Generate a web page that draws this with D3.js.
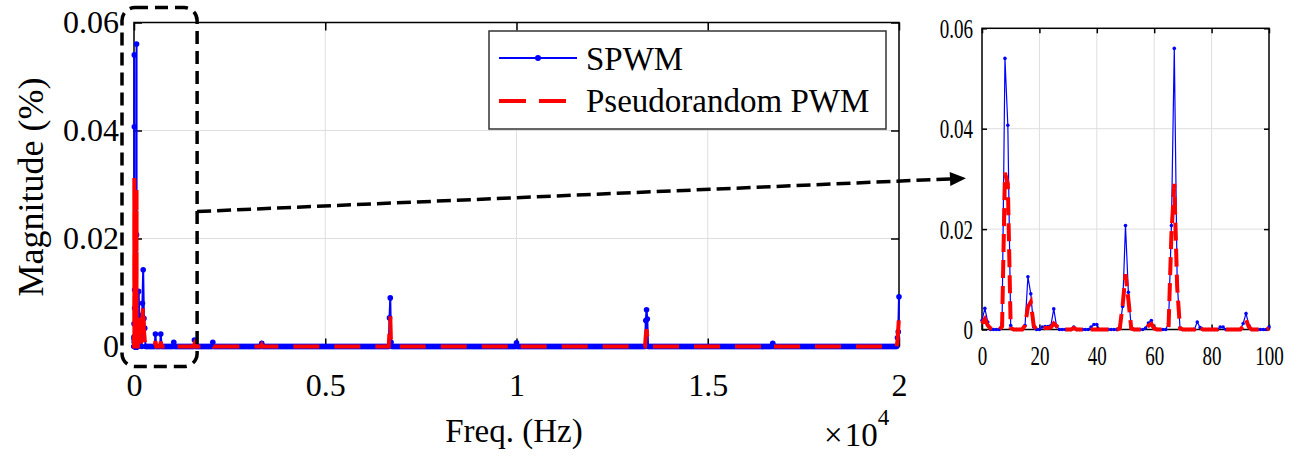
<!DOCTYPE html>
<html>
<head>
<meta charset="utf-8">
<title>SPWM vs Pseudorandom PWM spectrum</title>
<script src="https://cdn.jsdelivr.net/npm/d3@7"></script>
<style>
    html, body { margin: 0; background: #fff; }
    svg { display: block; font-family: "Liberation Serif", "Times New Roman", serif; }
    .grid line { stroke: #dedede; stroke-width: 1; }
    .frame { fill: none; stroke: #000; stroke-width: 1.5; }
    .axis path { display: none; }
    .axis line { stroke: #000; stroke-width: 1.5; }
    .axis text { font-family: "Liberation Serif", "Times New Roman", serif; fill: #000; }
</style>
</head>
<body>
<svg width="1311" height="463"></svg>
<script>
// zoomed view: 1 Hz bins, 0..100 Hz
var insetHz = d3.range(0, 101);
var insetSpwm = [
    0.0018, 0.0042, 0.0015, 0, 0, 0, 0, 0.0012, 0.054, 0.0407,
    0.0008, 0, 0, 0, 0, 0.0008, 0.0105, 0.0071, 0.0005, 0,
    0, 0.0005, 0.0006, 0.0006, 0.0008, 0.0041, 0.0006, 0, 0, 0,
    0, 0, 0.0005, 0, 0, 0, 0, 0, 0.0005, 0.001,
    0.001, 0, 0, 0, 0, 0, 0, 0, 0.0003, 0.0046,
    0.0207, 0.0074, 0.0003, 0, 0, 0, 0, 0.0003, 0.0013, 0.0018,
    0.0003, 0, 0, 0, 0, 0.0012, 0.0207, 0.056, 0.0096, 0.0003,
    0, 0, 0, 0, 0, 0.0015, 0.0004, 0, 0, 0,
    0, 0, 0, 0.0005, 0.0005, 0, 0, 0, 0, 0,
    0, 0.0012, 0.0032, 0.0008, 0, 0, 0, 0, 0, 0,
    0.0005
];
var insetPrpwm = [
    0.0012, 0.0021, 0.0008, 0.0002, 0, 0, 0, 0.0006, 0.0312, 0.029,
    0.0003, 0, 0, 0, 0, 0.0008, 0.0045, 0.0055, 0.0008, 0,
    0, 0.0002, 0.0003, 0.0003, 0.0004, 0.0012, 0.0007, 0.0002, 0, 0,
    0, 0, 0.0003, 0, 0, 0, 0, 0, 0, 0,
    0, 0, 0, 0, 0, 0, 0, 0, 0.0002, 0.0048,
    0.011, 0.006, 0.0002, 0, 0, 0, 0, 0, 0.0008, 0.0011,
    0.0002, 0, 0, 0, 0, 0.0004, 0.019, 0.029, 0.0085, 0.0002,
    0, 0, 0, 0, 0, 0.0008, 0.0003, 0, 0, 0,
    0, 0, 0, 0.0003, 0.0002, 0, 0, 0, 0, 0,
    0, 0.0006, 0.0019, 0.0005, 0, 0, 0, 0, 0, 0,
    0.0002
];

// full-range trace above 100 Hz: 20 Hz bins, zero except these lines
var binHz = 20;
var peakHz    = [120, 140, 160, 180, 220, 240, 260, 280, 560, 700, 1040, 1580, 2060, 3340,
                 6680, 6700, 6720, 10000, 13380, 13400, 13420, 16700, 19960, 19980, 20000];
var peakSpwm  = [0.0102, 0.0058, 0.0034, 0.0012, 0.008, 0.0142, 0.0052, 0.0034, 0.0023, 0.0023, 0.0008, 0.0012, 0.0008, 0.0006,
                 0.0053, 0.009, 0.0008, 0.0007, 0.0048, 0.0068, 0.0051, 0.0006, 0.0016, 0.0027, 0.0092];
var peakPrpwm = [0.006, 0.0035, 0.002, 0.0008, 0.005, 0.0077, 0.003, 0.0012, 0.001, 0.0009, 0.0003, 0.0004, 0.0003, 0.0003,
                 0.003, 0.0056, 0.0004, 0.0003, 0.002, 0.0032, 0.0018, 0.0003, 0.001, 0.0032, 0.0055];

var mainXTicks = [0, 5000, 10000, 15000, 20000];
var mainXLabels = ["0", "0.5", "1", "1.5", "2"];
var yTicks = [0, 0.02, 0.04, 0.06];
var insetXTicks = [0, 20, 40, 60, 80, 100];
var seriesNames = ["SPWM", "Pseudorandom PWM"];

var blue = "#0000ff", red = "#ff0000";

var rows = insetHz.map(function (f, i) { return {f: f, a: insetSpwm[i], b: insetPrpwm[i]}; });
for (var f = 100 + binHz; f <= 20000; f += binHz) {
    var k = peakHz.indexOf(f);
    rows.push({f: f, a: k < 0 ? 0 : peakSpwm[k], b: k < 0 ? 0 : peakPrpwm[k]});
}
var insetRows = insetHz.map(function (f, i) { return {f: f, a: insetSpwm[i], b: insetPrpwm[i]}; });

var svg = d3.select("svg");

// strip d3's default sans-serif so the serif face from css applies
function plain(g) { g.attr("font-family", null).attr("font-size", null); }

// ---------- main panel ----------
var x = d3.scaleLinear().domain([0, 20000]).range([134, 899]);
var y = d3.scaleLinear().domain([0, 0.06]).range([346.5, 22.5]);

var main = svg.append("g");
var grid = main.append("g").attr("class", "grid");
grid.selectAll(".gx").data(mainXTicks.slice(1, -1)).enter().append("line")
    .attr("x1", x).attr("x2", x).attr("y1", y(0)).attr("y2", y(0.06));
grid.selectAll(".gy").data(yTicks.slice(1, -1)).enter().append("line")
    .attr("x1", x(0)).attr("x2", x(20000)).attr("y1", y).attr("y2", y);

main.append("rect").attr("class", "frame")
    .attr("x", x(0)).attr("y", y(0.06)).attr("width", x(20000) - x(0)).attr("height", y(0) - y(0.06));

var fmtX = function (d) { return mainXLabels[mainXTicks.indexOf(d)]; };
var fmtY = function (d) { return d === 0 ? "0" : d.toFixed(2); };

main.append("g").attr("class", "axis").attr("transform", "translate(0," + y(0) + ")")
    .call(d3.axisBottom(x).tickValues(mainXTicks).tickFormat(fmtX).tickSizeInner(-8).tickSizeOuter(0).tickPadding(27))
    .call(plain)
    .call(function (g) { g.selectAll("text").attr("font-size", 32); });
main.append("g").attr("class", "axis").attr("transform", "translate(0," + y(0.06) + ")")
    .call(d3.axisTop(x).tickValues(mainXTicks).tickFormat("").tickSizeInner(-8).tickSizeOuter(0));
main.append("g").attr("class", "axis").attr("transform", "translate(" + x(0) + ",0)")
    .call(d3.axisLeft(y).tickValues(yTicks).tickFormat(fmtY).tickSizeInner(-8).tickSizeOuter(0).tickPadding(15))
    .call(plain)
    .call(function (g) { g.selectAll("text").attr("font-size", 32); });
main.append("g").attr("class", "axis").attr("transform", "translate(" + x(20000) + ",0)")
    .call(d3.axisRight(y).tickValues(yTicks).tickFormat("").tickSizeInner(-8).tickSizeOuter(0));

var line = d3.line().x(function (d) { return x(d.f); });

main.append("path").datum(rows)
    .attr("fill", "none").attr("stroke", blue).attr("stroke-width", 2)
    .attr("d", line.y(function (d) { return y(d.a); }));
main.append("g").selectAll("circle").data(rows).enter().append("circle")
    .attr("cx", function (d) { return x(d.f); }).attr("cy", function (d) { return y(d.a); })
    .attr("r", 2.8).attr("fill", blue);
main.append("path").datum(rows)
    .attr("fill", "none").attr("stroke", red).attr("stroke-width", 4).attr("stroke-dasharray", "26,15")
    .attr("d", line.y(function (d) { return y(d.b); }));

main.append("text").attr("x", 514).attr("y", 442).attr("text-anchor", "middle")
    .attr("font-size", 33).text("Freq. (Hz)");
main.append("text").attr("transform", "translate(43,187) rotate(-90)").attr("text-anchor", "middle")
    .attr("font-size", 36).text("Magnitude (%)");
var mult = main.append("text").attr("x", 824).attr("y", 446).attr("font-size", 33);
mult.append("tspan").text("\u00d7");
mult.append("tspan").attr("dx", 2).text("10");
mult.append("tspan").attr("font-size", 23).attr("dy", -21).text("4");

// legend
var lg = main.append("g");
lg.append("rect").attr("x", 489).attr("y", 31).attr("width", 397).attr("height", 98)
    .attr("fill", "#fff").attr("stroke", "#333").attr("stroke-width", 1.5);
lg.append("line").attr("x1", 499).attr("x2", 577).attr("y1", 58).attr("y2", 58)
    .attr("stroke", blue).attr("stroke-width", 2);
lg.append("circle").attr("cx", 538).attr("cy", 58).attr("r", 3).attr("fill", blue);
lg.append("line").attr("x1", 499).attr("x2", 577).attr("y1", 101).attr("y2", 101)
    .attr("stroke", red).attr("stroke-width", 4).attr("stroke-dasharray", "27,13");
lg.selectAll("text").data(seriesNames).enter().append("text")
    .attr("x", 586).attr("y", function (d, i) { return i ? 112 : 70; })
    .attr("font-size", 33).text(function (d) { return d; });

// ---------- inset ----------
var xi = d3.scaleLinear().domain([0, 100]).range([982, 1269]);
var yi = d3.scaleLinear().domain([0, 0.06]).range([329.5, 28.3]);
var inset = svg.append("g");
var igrid = inset.append("g").attr("class", "grid");
igrid.selectAll(".gx").data(insetXTicks.slice(1, -1)).enter().append("line")
    .attr("x1", xi).attr("x2", xi).attr("y1", yi(0)).attr("y2", yi(0.06));
igrid.selectAll(".gy").data(yTicks.slice(1, -1)).enter().append("line")
    .attr("x1", xi(0)).attr("x2", xi(100)).attr("y1", yi).attr("y2", yi);
inset.append("rect").attr("class", "frame")
    .attr("x", xi(0)).attr("y", yi(0.06)).attr("width", xi(100) - xi(0)).attr("height", yi(0) - yi(0.06));

var squeeze = 0.68;
inset.append("g").attr("class", "axis").attr("transform", "translate(0," + yi(0) + ")")
    .call(d3.axisBottom(xi).tickValues(insetXTicks).tickSizeInner(-5).tickSizeOuter(0).tickPadding(16))
    .call(plain)
    .call(function (g) {
        g.selectAll("text").attr("font-size", 28).attr("transform", "scale(" + squeeze + ",1)");
    });
inset.append("g").attr("class", "axis").attr("transform", "translate(0," + yi(0.06) + ")")
    .call(d3.axisTop(xi).tickValues(insetXTicks).tickFormat("").tickSizeInner(-5).tickSizeOuter(0));
inset.append("g").attr("class", "axis").attr("transform", "translate(" + xi(0) + ",0)")
    .call(d3.axisLeft(yi).tickValues(yTicks).tickFormat(fmtY).tickSizeInner(-5).tickSizeOuter(0))
    .call(plain)
    .call(function (g) {
        g.selectAll("text").attr("font-size", 28)
            .attr("x", 0).attr("transform", "translate(-9,0) scale(" + squeeze + ",1)");
    });
inset.append("g").attr("class", "axis").attr("transform", "translate(" + xi(100) + ",0)")
    .call(d3.axisRight(yi).tickValues(yTicks).tickFormat("").tickSizeInner(-5).tickSizeOuter(0));

var iline = d3.line().x(function (d) { return xi(d.f); });
inset.append("path").datum(insetRows)
    .attr("fill", "none").attr("stroke", blue).attr("stroke-width", 1.2)
    .attr("d", iline.y(function (d) { return yi(d.a); }));
inset.append("g").selectAll("circle").data(insetRows).enter().append("circle")
    .attr("cx", function (d) { return xi(d.f); }).attr("cy", function (d) { return yi(d.a); })
    .attr("r", 1.8).attr("fill", blue);
inset.append("path").datum(insetRows)
    .attr("fill", "none").attr("stroke", red).attr("stroke-width", 4).attr("stroke-dasharray", "18,8")
    .attr("d", iline.y(function (d) { return yi(d.b); }));

// ---------- zoom box and arrow ----------
var boxL = x(0) - 12, boxR = x(1650), boxT = y(0.06) - 15, boxB = y(0) + 20;
svg.append("rect").attr("x", boxL).attr("y", boxT).attr("width", boxR - boxL).attr("height", boxB - boxT)
    .attr("rx", 13).attr("fill", "none").attr("stroke", "#000").attr("stroke-width", 3.5)
    .attr("stroke-dasharray", "13,7");

var ax0 = boxR, ay0 = y(0.025), ax1 = xi(0) - 32, ay1 = yi(0.03);
svg.append("line").attr("x1", ax0).attr("y1", ay0).attr("x2", ax1).attr("y2", ay1)
    .attr("stroke", "#000").attr("stroke-width", 3.5).attr("stroke-dasharray", "14,6");
var ang = Math.atan2(ay1 - ay0, ax1 - ax0) * 180 / Math.PI;
svg.append("path").attr("d", "M0,-7L16,0L0,7Z").attr("fill", "#000")
    .attr("transform", "translate(" + ax1 + "," + ay1 + ") rotate(" + ang + ")");
</script>
</body>
</html>
